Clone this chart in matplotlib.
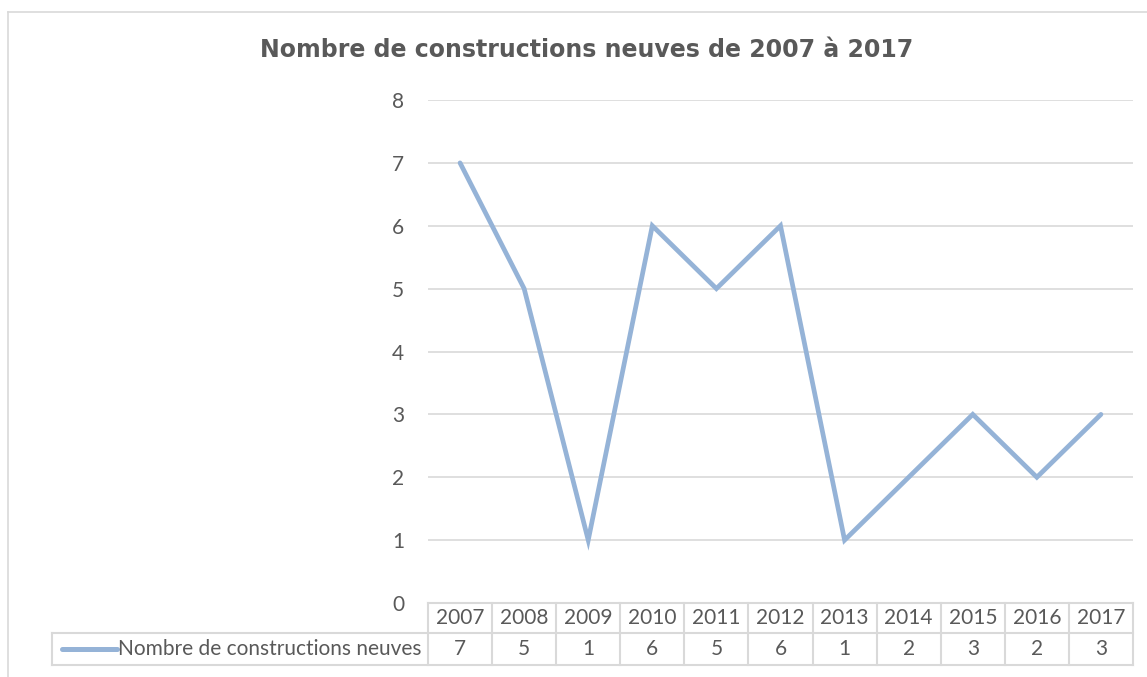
import matplotlib
matplotlib.use('Agg')
import matplotlib.pyplot as plt
from matplotlib.lines import Line2D
import matplotlib.transforms as mtransforms

years = ['2007', '2008', '2009', '2010', '2011', '2012', '2013', '2014', '2015', '2016', '2017']
values = [7, 5, 1, 6, 5, 6, 1, 2, 3, 2, 3]
series_name = 'Nombre de constructions neuves'
title = 'Nombre de constructions neuves de 2007 à 2017'

W, H = 1147, 677
TXT = '#595959'
GRID = '#D9D9D9'
LINE = '#95B3D7'
plt.rcParams['font.family'] = ['Lato', 'DejaVu Sans']

fig = plt.figure(figsize=(W / 100, H / 100), dpi=100)

def fx(px):
    return px / W

def fy(py):
    return 1 - py / H

# chart border
fig.add_artist(Line2D([fx(8), 1], [fy(12), fy(12)], color=GRID, lw=1.2))
fig.add_artist(Line2D([fx(8), fx(8)], [fy(12), 0], color=GRID, lw=1.2))

left, right, top, bottom = 428, 1133, 100, 603
ax = fig.add_axes([fx(left), fy(bottom), fx(right - left), fy(top) - fy(bottom)])
x = list(range(len(years)))
ax.plot(x, values, color=LINE, lw=3.4, solid_capstyle='round', solid_joinstyle='miter', zorder=3)
ax.set_xlim(-0.5, len(years) - 0.5)
ax.set_ylim(0, 8)
ax.set_yticks(range(0, 9))
ax.yaxis.grid(True, color=GRID, lw=1.2)
ax.set_axisbelow(True)
for s in ax.spines.values():
    s.set_visible(False)
ax.set_xticks([])
ax.tick_params(axis='y', length=0, pad=17, labelsize=15, labelcolor=TXT)

fig.text(fx(587), fy(50), title, ha='center', va='center', fontsize=17,
         fontweight='bold', color=TXT, family='DejaVu Sans')

# data table below the axis
trans = mtransforms.blended_transform_factory(ax.transData, fig.transFigure)
r0, r1, r2 = fy(603), fy(633), fy(665)
for i in range(len(years) + 1):
    ax.add_line(Line2D([i - 0.5, i - 0.5], [r0, r2], transform=trans, color=GRID,
                       lw=1.5, clip_on=False))
ax.add_line(Line2D([-0.5, len(years) - 0.5], [r0, r0], transform=trans, color=GRID,
                   lw=1.5, clip_on=False))
for yy in (r1, r2):
    fig.add_artist(Line2D([fx(52), fx(right)], [yy, yy], color=GRID, lw=1.5))
fig.add_artist(Line2D([fx(52), fx(52)], [r1, r2], color=GRID, lw=1.5))
for i, (yr, v) in enumerate(zip(years, values)):
    ax.text(i, (r0 + r1) / 2, yr, transform=trans, ha='center', va='center',
            fontsize=15, color=TXT)
    ax.text(i, (r1 + r2) / 2, str(v), transform=trans, ha='center', va='center',
            fontsize=15, color=TXT)

fig.add_artist(Line2D([fx(62), fx(117)], [(r1 + r2) / 2] * 2, color=LINE, lw=3.6,
                      solid_capstyle='round'))
fig.text(fx(118), (r1 + r2) / 2, series_name, ha='left', va='center',
         fontsize=15, color=TXT)

fig.savefig('out.png', dpi=100)
